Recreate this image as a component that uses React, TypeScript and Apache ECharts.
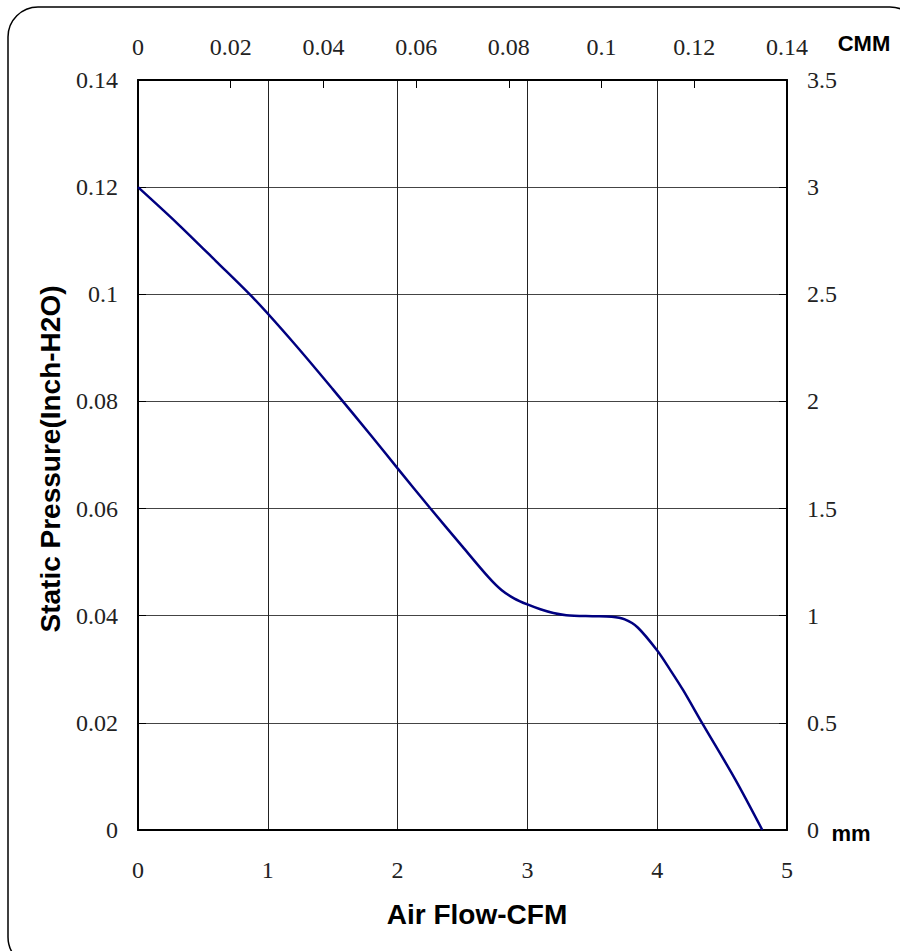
import React, { useEffect, useRef } from "react";
import * as echarts from "echarts";

const airFlowCFM = [0, 0.3, 0.6, 0.9, 1.2, 1.5, 1.8, 2.0, 2.25, 2.5, 2.7, 2.8, 2.9, 3.0, 3.1, 3.2, 3.3, 3.5, 3.65, 3.75, 3.85, 4.0, 4.1, 4.2, 4.35, 4.6, 4.81];
const staticPressure = [0.12, 0.1133, 0.1062, 0.099, 0.0909, 0.0823, 0.0735, 0.0675, 0.0601, 0.0529, 0.0472, 0.0448, 0.0432, 0.0421, 0.0412, 0.0405, 0.0401, 0.0399, 0.0398, 0.0393, 0.0378, 0.0335, 0.0299, 0.0261, 0.0198, 0.0095, 0.0];

const bottomAxis = { min: 0, max: 5, interval: 1 };
const topAxis = { min: 0, max: 0.14, interval: 0.02 };
const leftAxis = { min: 0, max: 0.14, interval: 0.02 };
const rightAxis = { min: 0, max: 3.5, interval: 0.5 };

const xTitle = "Air Flow-CFM";
const yTitle = "Static Pressure(Inch-H2O)";
const topUnit = "CMM";
const rightUnit = "mm";

export default function App() {
  const ref = useRef<HTMLDivElement>(null);
  useEffect(() => {
    if (!ref.current) return;
    const chart = echarts.init(ref.current, undefined, { renderer: "svg" });
    const tickFont = { fontFamily: "Liberation Serif", fontSize: 24, color: "#222" };
    const titleFont = { fontFamily: "Liberation Sans", fontWeight: "bold", fill: "#000" };
    const axisLine = { show: true, onZero: false, lineStyle: { color: "#000", width: 2 } };
    const inTick = { show: true, inside: true, length: 8, lineStyle: { color: "#000", width: 1 } };
    chart.setOption({
      animation: false,
      backgroundColor: "#fff",
      grid: { left: 138, top: 80, width: 649, height: 750, containLabel: false },
      xAxis: [
        {
          type: "value",
          position: "bottom",
          ...bottomAxis,
          axisLine,
          axisTick: { show: false },
          splitLine: { show: true, lineStyle: { color: "#222", width: 1 } },
          axisLabel: { ...tickFont, margin: 28 },
        },
        {
          type: "value",
          position: "top",
          ...topAxis,
          axisLine,
          axisTick: inTick,
          splitLine: { show: false },
          axisLabel: { ...tickFont, margin: 21 },
        },
      ],
      yAxis: [
        {
          type: "value",
          position: "left",
          ...leftAxis,
          axisLine,
          axisTick: inTick,
          splitLine: { show: true, lineStyle: { color: "#444", width: 1 } },
          axisLabel: { ...tickFont, margin: 20 },
        },
        {
          type: "value",
          position: "right",
          ...rightAxis,
          axisLine,
          axisTick: inTick,
          splitLine: { show: false },
          axisLabel: { ...tickFont, margin: 20 },
        },
      ],
      series: [
        {
          type: "line",
          xAxisIndex: 0,
          yAxisIndex: 0,
          data: airFlowCFM.map((x, i) => [x, staticPressure[i]]),
          smooth: 0.3,
          showSymbol: false,
          symbol: "none",
          lineStyle: { color: "#000080", width: 2.5 },
        },
      ],
      graphic: [
        {
          type: "rect",
          x: 8,
          y: 7,
          shape: { x: 0, y: 0, width: 912, height: 960, r: 30 },
          style: { fill: "none", stroke: "#000", lineWidth: 1.5 },
          silent: true,
        },
        {
          type: "text",
          x: 477,
          y: 914,
          style: { ...titleFont, text: xTitle, fontSize: 28, align: "center", verticalAlign: "middle" },
        },
        {
          type: "text",
          x: 50,
          y: 459,
          rotation: Math.PI / 2,
          style: { ...titleFont, text: yTitle, fontSize: 28, align: "center", verticalAlign: "middle" },
        },
        {
          type: "text",
          x: 864,
          y: 43,
          style: { ...titleFont, text: topUnit, fontSize: 22, align: "center", verticalAlign: "middle" },
        },
        {
          type: "text",
          x: 851,
          y: 833,
          style: { ...titleFont, text: rightUnit, fontSize: 22, align: "center", verticalAlign: "middle" },
        },
      ],
    });
    return () => chart.dispose();
  }, []);
  return (
    <div
      ref={ref}
      style={{ position: "fixed", left: 0, top: 0, width: 900, height: 951 }}
    />
  );
}
